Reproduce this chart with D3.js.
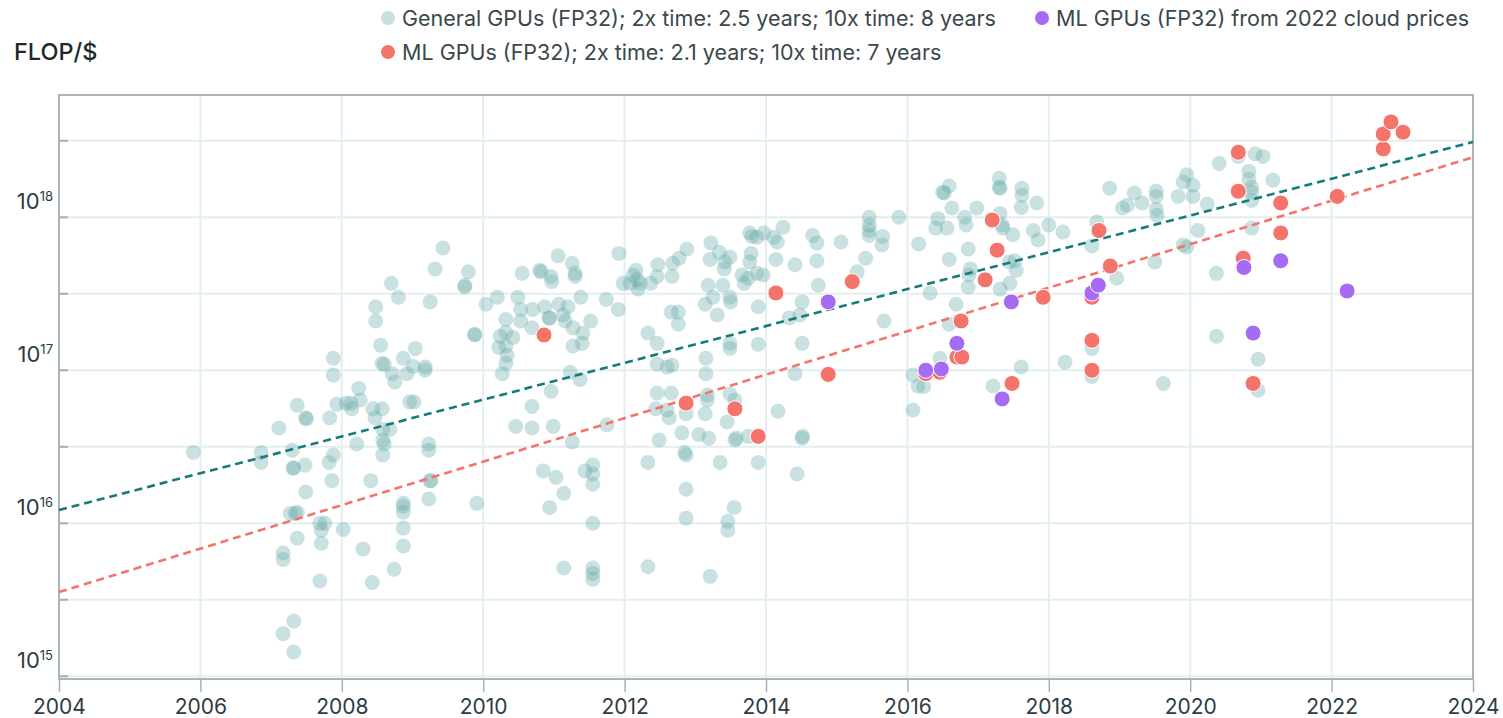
<!DOCTYPE html>
<html>
<head>
<meta charset="utf-8">
<script src="https://cdn.jsdelivr.net/npm/d3@7"></script>
<style>
  body { margin: 0; background: #fff; }
  svg text { font-family: Inter, "Noto Sans", sans-serif; }
</style>
</head>
<body>
<svg id="chart" width="1503" height="718"></svg>
<script>
// [year, FLOP/$]
const generalGPUs = [
  [2005.90,2.9e16],[2006.86,2.9e16],[2006.86,2.5e16],[2007.11,4.2e16],
  [2007.30,3.0e16],[2007.31,2.3e16],[2007.32,2.3e16],[2007.37,5.9e16],[2007.49,4.9e16],[2007.50,4.8e16],
  [2007.48,2.4e16],[2007.49,1.6e16],[2007.27,1.16e16],[2007.34,1.16e16],[2007.37,1.18e16],
  [2007.37,8.0e15],[2007.17,6.4e15],[2007.17,5.8e15],[2007.32,2.3e15],[2007.17,1.9e15],[2007.32,1.44e15],
  [2007.69,4.2e15],[2007.69,1.0e16],[2007.76,1.0e16],[2007.71,9.0e15],[2007.71,7.4e15],
  [2007.82,2.5e16],[2007.88,2.8e16],[2007.83,4.9e16],[2007.86,1.9e16],[2007.88,1.2e17],[2007.88,9.3e16],
  [2007.93,6.0e16],[2008.06,6.1e16],[2008.13,6.1e16],[2008.14,5.6e16],[2008.02,9.1e15],[2008.21,3.3e16],
  [2008.24,7.6e16],[2008.26,6.4e16],[2008.30,6.8e15],[2008.43,4.1e15],[2008.41,1.9e16],
  [2008.44,5.6e16],[2008.47,4.9e16],[2008.57,5.6e16],[2008.48,2.6e17],[2008.48,2.1e17],[2008.55,1.46e17],
  [2008.57,1.11e17],[2008.60,1.09e17],[2008.70,3.7e17],[2008.80,3.0e17],[2008.71,9.5e16],[2008.75,8.4e16],
  [2008.58,4.1e16],[2008.58,3.5e16],[2008.60,3.3e16],[2008.68,4.1e16],[2008.58,2.8e16],
  [2008.74,5.0e15],[2008.87,1.2e17],[2008.92,9.5e16],[2008.96,6.2e16],
  [2008.87,1.35e16],[2008.87,1.29e16],[2008.87,1.18e16],[2008.87,9.3e15],[2008.87,7.1e15],
  [2009.04,1.39e17],[2009.01,1.06e17],[2009.18,1.05e17],[2009.18,1.0e17],[2009.02,6.2e16],
  [2009.25,2.8e17],[2009.32,4.6e17],[2009.43,6.3e17],[2009.23,3.3e16],[2009.23,3.0e16],
  [2009.25,1.9e16],[2009.26,1.9e16],[2009.23,1.44e16],[2009.74,3.6e17],[2009.74,3.5e17],[2009.79,4.4e17],
  [2009.88,1.7e17],[2009.88,1.72e17],[2009.91,1.35e16],[2010.04,2.7e17],[2010.20,3.0e17],[2010.49,3.0e17],
  [2010.32,2.15e17],[2010.53,2.5e17],[2010.53,2.1e17],[2010.70,2.5e17],[2010.87,2.6e17],
  [2010.93,2.2e17],[2010.94,2.2e17],[2011.07,2.7e17],[2011.20,2.6e17],[2011.13,2.3e17],[2011.16,2.1e17],
  [2011.27,1.9e17],[2011.38,3.0e17],[2011.52,2.1e17],[2011.41,1.75e17],[2011.40,1.5e17],[2011.27,1.44e17],
  [2010.69,1.9e17],[2010.24,1.67e17],[2010.32,1.77e17],[2010.42,1.64e17],[2010.22,1.41e17],[2010.32,1.44e17],
  [2010.34,1.25e17],[2010.32,1.11e17],[2010.27,9.5e16],[2010.55,4.3e17],[2010.80,4.5e17],[2010.82,4.4e17],
  [2010.96,4.1e17],[2010.97,3.8e17],[2011.06,5.6e17],[2011.26,5.0e17],[2011.30,4.3e17],[2011.30,4.1e17],
  [2011.74,2.9e17],[2011.91,2.5e17],[2011.92,5.8e17],[2011.98,3.7e17],[2012.08,3.7e17],[2012.12,4.2e17],
  [2012.18,3.9e17],[2012.19,3.4e17],[2011.23,9.7e16],[2011.37,8.7e16],[2010.96,7.3e16],[2010.69,5.8e16],
  [2010.46,4.3e16],[2010.69,4.2e16],[2010.99,4.3e16],[2011.26,3.4e16],[2011.75,4.4e16],
  [2010.85,2.2e16],[2011.03,2.0e16],[2011.14,1.57e16],[2010.94,1.27e16],[2011.44,2.2e16],[2011.55,2.4e16],
  [2011.55,2.1e16],[2011.55,1.8e16],[2011.55,1.0e16],[2011.14,5.1e15],[2011.55,5.1e15],[2011.55,4.7e15],
  [2011.55,4.3e15],
  [2012.22,3.7e17],[2012.16,4.5e17],[2012.37,3.7e17],[2012.46,4.1e17],[2012.47,4.9e17],
  [2012.67,4.1e17],[2012.68,5.0e17],[2012.77,5.4e17],[2012.88,6.2e17],[2013.22,6.8e17],[2013.21,5.3e17],
  [2013.34,5.9e17],[2013.49,5.5e17],[2013.42,5.1e17],[2013.41,4.6e17],[2013.77,7.9e17],[2013.80,7.5e17],
  [2013.87,7.4e17],[2013.97,7.9e17],[2014.11,7.4e17],[2014.16,6.9e17],[2014.24,8.6e17],[2014.14,5.3e17],
  [2013.79,5.8e17],[2013.77,5.1e17],[2014.66,7.6e17],[2014.72,6.8e17],[2015.06,6.9e17],[2015.29,4.4e17],
  [2014.72,5.2e17],[2014.41,4.9e17],[2014.74,3.6e17],[2014.51,2.8e17],[2014.48,2.3e17],[2014.33,2.2e17],
  [2013.89,2.6e17],[2014.51,1.5e17],[2013.89,1.48e17],[2013.49,1.5e17],[2013.49,1.39e17],
  [2014.41,9.5e16],[2014.17,5.4e16],[2014.44,2.1e16],[2014.51,3.6e16],[2014.52,3.7e16],
  [2013.89,2.5e16],[2013.35,2.5e16],[2012.85,2.9e16],[2012.87,2.8e16],[2012.87,1.67e16],[2012.87,1.08e16],
  [2013.55,1.27e16],[2013.46,1.03e16],[2013.46,9.0e15],[2012.33,5.2e15],[2013.21,4.5e15],
  [2012.33,2.5e16],[2012.49,3.5e16],[2012.81,3.9e16],[2013.05,3.8e16],[2013.19,3.6e16],[2013.56,3.5e16],
  [2013.58,3.6e16],[2013.75,3.7e16],[2013.45,4.6e16],[2013.14,5.2e16],[2013.17,6.9e16],[2013.17,6.4e16],
  [2012.46,7.1e16],[2012.66,7.1e16],[2012.44,5.6e16],[2012.63,4.9e16],[2012.60,5.5e16],[2012.87,5.2e16],
  [2013.49,7.0e16],[2013.56,6.4e16],[2013.15,9.5e16],[2013.15,1.2e17],[2012.60,1.05e17],[2012.67,1.08e17],
  [2012.46,1.1e17],[2012.33,1.75e17],[2012.46,1.5e17],[2012.76,2.4e17],[2012.76,2.0e17],[2012.66,2.4e17],
  [2013.14,2.7e17],[2013.31,2.3e17],[2013.25,3.0e17],[2013.18,3.6e17],[2013.39,3.6e17],[2013.49,3.0e17],
  [2013.50,2.8e17],[2013.69,3.7e17],[2013.75,4.0e17],[2013.66,4.2e17],[2013.87,4.3e17],[2013.96,4.2e17],
  [2015.41,5.4e17],[2015.46,1.0e18],[2015.46,8.9e17],[2015.46,8.2e17],[2015.46,7.6e17],
  [2015.65,7.5e17],[2015.64,6.6e17],[2015.88,1.0e18],[2016.16,6.7e17],[2016.32,3.2e17],[2015.67,2.1e17],
  [2016.50,1.46e18],[2016.52,1.44e18],[2016.59,1.6e18],[2016.63,1.15e18],[2016.43,9.8e17],[2016.40,8.5e17],
  [2016.56,8.5e17],[2016.81,1.0e18],[2016.83,8.9e17],[2016.98,1.15e18],[2016.86,6.2e17],[2016.59,5.3e17],
  [2016.89,4.6e17],[2016.87,4.2e17],[2016.86,3.5e17],[2017.30,1.8e18],[2017.30,1.57e18],[2017.31,1.55e18],
  [2017.31,1.06e18],[2017.34,8.9e17],[2017.35,8.5e17],[2017.49,7.7e17],[2017.62,1.55e18],[2017.62,1.39e18],
  [2017.61,1.16e18],[2017.83,1.24e18],[2017.78,8.2e17],[2017.85,7.1e17],[2018.00,8.9e17],[2018.20,8.0e17],
  [2017.44,5.1e17],[2017.52,5.2e17],[2017.54,4.5e17],[2017.45,3.7e17],[2017.31,3.4e17],
  [2016.69,2.7e17],[2016.59,2.0e17],[2016.46,1.2e17],[2016.08,9.3e16],[2016.15,7.9e16],[2016.23,7.8e16],
  [2016.08,5.5e16],[2017.21,7.9e16],[2017.61,1.05e17],[2018.23,1.13e17],
  [2018.61,6.5e17],[2018.68,9.3e17],[2018.86,1.55e18],[2018.96,4.0e17],[2019.04,1.15e18],[2019.11,1.2e18],
  [2019.21,1.44e18],[2019.32,1.24e18],[2019.50,5.1e17],[2019.52,1.48e18],[2019.52,1.37e18],[2019.52,1.13e18],
  [2019.53,1.03e18],[2019.62,8.2e16],[2019.83,1.37e18],[2019.90,1.7e18],[2019.95,1.9e18],[2020.04,1.62e18],
  [2020.04,1.37e18],[2019.90,6.6e17],[2019.95,6.4e17],[2020.11,8.2e17],[2020.24,1.22e18],
  [2020.37,4.3e17],[2020.37,1.67e17],[2020.41,2.25e18],[2020.68,2.5e18],[2020.92,2.6e18],[2021.03,2.5e18],
  [2020.83,2.0e18],[2020.83,1.77e18],[2020.87,1.57e18],[2020.87,1.46e18],[2020.87,1.29e18],
  [2021.17,1.75e18],[2020.87,8.5e17],[2020.75,5.5e17],[2020.96,1.18e17],[2020.96,7.4e16],
  [2018.61,1.39e17],[2018.61,9.1e16]
];

const mlGPUs = [
  [2010.86,1.7e17],[2012.87,6.1e16],[2013.56,5.6e16],[2013.89,3.7e16],[2014.14,3.2e17],[2014.88,9.4e16],
  [2015.22,3.8e17],[2016.26,9.5e16],[2016.46,9.7e16],[2016.70,1.22e17],[2016.77,1.22e17],[2016.76,2.1e17],
  [2017.10,3.9e17],[2017.20,9.6e17],[2017.27,6.1e17],[2017.48,8.2e16],[2017.92,3.0e17],[2018.61,3.0e17],
  [2018.61,1.57e17],[2018.61,1.0e17],[2018.71,8.2e17],[2018.87,4.8e17],[2020.68,2.66e18],[2020.68,1.48e18],
  [2020.75,5.4e17],[2020.89,8.2e16],[2021.28,1.24e18],[2021.28,7.9e17],[2022.08,1.37e18],[2022.73,2.8e18],
  [2022.73,3.5e18],[2022.84,4.2e18],[2023.01,3.6e18]
];

const cloudGPUs = [
  [2014.88,2.8e17],[2016.26,1.0e17],[2016.48,1.02e17],[2016.70,1.5e17],[2017.34,6.5e16],[2017.47,2.8e17],
  [2018.61,3.2e17],[2018.70,3.6e17],[2020.76,4.7e17],[2020.89,1.75e17],[2021.28,5.2e17],[2022.22,3.3e17]
];

const generalTrend = [[2004, 1.22e16], [2024, 3.11e18]];
const mlTrend = [[2004, 3.55e15], [2024, 2.47e18]];

const xTicks = [2004, 2006, 2008, 2010, 2012, 2014, 2016, 2018, 2020, 2022, 2024];
const yLabelTicks = [1e15, 1e16, 1e17, 1e18];
const yGridTicks = [1e15, 3.162e15, 1e16, 3.162e16, 1e17, 3.162e17, 1e18, 3.162e18];

const legendLabels = [
  "General GPUs (FP32); 2x time: 2.5 years; 10x time: 8 years",
  "ML GPUs (FP32); 2x time: 2.1 years; 10x time: 7 years",
  "ML GPUs (FP32) from 2022 cloud prices"
];
const legendColors = ["#c7e0df", "#f4736a", "#a56cf3"];

const margin = {left: 59, right: 30, top: 95, bottom: 39};
const W = 1503, H = 718;
const legendPos = [[388, 18], [388, 52], [1042, 18]];

const svg = d3.select("#chart");

const x = d3.scaleLinear().domain([2004, 2024]).range([margin.left, W - margin.right]);
const y = d3.scaleLog().domain([9.6e14, 6.3e18]).range([H - margin.bottom, margin.top]);

// grid
svg.append("g")
  .selectAll("line")
  .data(yGridTicks)
  .join("line")
  .attr("x1", margin.left).attr("x2", W - margin.right)
  .attr("y1", d => y(d)).attr("y2", d => y(d))
  .attr("stroke", "#e4eeee").attr("stroke-width", 2);

svg.append("g")
  .selectAll("line")
  .data(xTicks)
  .join("line")
  .attr("x1", d => x(d)).attr("x2", d => x(d))
  .attr("y1", margin.top).attr("y2", H - margin.bottom)
  .attr("stroke", "#e4eeee").attr("stroke-width", 2);

// small ticks on the left axis
svg.append("g")
  .selectAll("line")
  .data(yGridTicks)
  .join("line")
  .attr("x1", margin.left).attr("x2", margin.left + 9)
  .attr("y1", d => y(d)).attr("y2", d => y(d))
  .attr("stroke", "#a5b2b5").attr("stroke-width", 2);

// x axis
let xAxis = svg.append("g")
  .attr("transform", "translate(0," + (H - margin.bottom) + ")")
  .call(d3.axisBottom(x).tickValues(xTicks).tickFormat(d3.format("d")).tickSize(13).tickPadding(7));
xAxis.select(".domain").remove();
xAxis.selectAll(".tick line").attr("stroke", "#a5b2b5").attr("stroke-width", 1.5);
xAxis.selectAll(".tick text")
  .attr("font-size", 21).attr("fill", "#2c3c42")
  .style("font-family", "Inter, 'Noto Sans', sans-serif");

// y labels
let yl = svg.append("g")
  .selectAll("text")
  .data(yLabelTicks)
  .join("text")
  .attr("x", 53)
  .attr("y", d => y(d) - 8)
  .attr("text-anchor", "end")
  .attr("fill", "#2c3c42");
yl.append("tspan").attr("font-size", 22).text("10");
yl.append("tspan").attr("font-size", 13).attr("dy", -8.5)
  .text(d => Math.round(Math.log10(d)));

// frame
svg.append("rect")
  .attr("x", margin.left).attr("y", margin.top)
  .attr("width", W - margin.left - margin.right)
  .attr("height", H - margin.top - margin.bottom)
  .attr("fill", "none").attr("stroke", "#a9b6b9").attr("stroke-width", 2);

// general points
svg.append("g")
  .selectAll("circle")
  .data(generalGPUs)
  .join("circle")
  .attr("cx", d => x(d[0])).attr("cy", d => y(d[1]))
  .attr("r", 7.5)
  .attr("fill", "#66aaa8").attr("fill-opacity", 0.35);

// trend lines
let line = d3.line().x(d => x(d[0])).y(d => y(d[1]));
svg.append("path").datum(generalTrend)
  .attr("d", line).attr("fill", "none")
  .attr("stroke", "#167b7b").attr("stroke-width", 2.6).attr("stroke-dasharray", "8,5");
svg.append("path").datum(mlTrend)
  .attr("d", line).attr("fill", "none")
  .attr("stroke", "#f4736a").attr("stroke-width", 2.6).attr("stroke-dasharray", "8,5");

// ML points
svg.append("g")
  .selectAll("circle")
  .data(mlGPUs)
  .join("circle")
  .attr("cx", d => x(d[0])).attr("cy", d => y(d[1]))
  .attr("r", 8)
  .attr("fill", "#f4736a").attr("stroke", "#fff").attr("stroke-width", 1);

svg.append("g")
  .selectAll("circle")
  .data(cloudGPUs)
  .join("circle")
  .attr("cx", d => x(d[0])).attr("cy", d => y(d[1]))
  .attr("r", 8)
  .attr("fill", "#a56cf3").attr("stroke", "#fff").attr("stroke-width", 1);

// title
svg.append("text")
  .attr("x", 14).attr("y", 60)
  .attr("font-size", 23.5).attr("font-weight", 500).attr("fill", "#1c2a2e")
  .text("FLOP/$");

// legend
let lg = svg.append("g")
  .selectAll("g")
  .data(legendLabels)
  .join("g")
  .attr("transform", (d, i) => "translate(" + legendPos[i][0] + "," + legendPos[i][1] + ")");
lg.append("circle").attr("r", 7).attr("fill", (d, i) => legendColors[i]);
lg.append("text")
  .attr("x", 14).attr("y", 7.5)
  .attr("font-size", 21.5).attr("fill", "#3a484c")
  .text(d => d);
</script>
</body>
</html>
